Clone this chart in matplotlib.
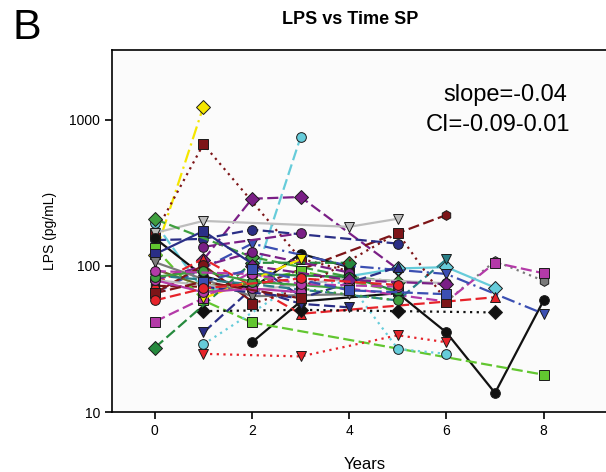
import matplotlib.pyplot as plt

plt.rcParams['font.family'] = ['Liberation Sans', 'DejaVu Sans']

# one list per subject: visit years and LPS (pg/mL)
years = [
    [0, 1], [0, 1, 3, 4], [0, 1, 2, 3], [1, 2, 3, 5], [0, 1, 4, 5],
    [0, 2, 6], [0, 1, 2, 5], [0, 1, 2, 3, 4], [2, 3, 5, 6, 7, 8], [0, 1, 2, 8],
    [1, 3, 5, 6], [1, 3, 4, 5, 6], [6, 7, 8], [4, 6, 7, 8], [4, 5, 6, 7],
    [0, 2, 4, 6, 8], [0, 1, 3, 6, 7], [1, 3, 5, 7], [0, 2, 4], [0, 2, 4, 5],
    [0, 1, 2, 3], [1, 2, 3, 4], [1, 3, 5], [1, 3], [0, 2, 4],
    [0, 1, 2], [0, 1, 2], [0, 1, 3], [0, 2, 4, 6], [0, 2, 5, 6],
    [2, 4, 5], [0, 2, 4], [1, 3, 5], [2, 4, 6], [3, 5],
    [2, 3, 5, 6], [1, 2, 3], [0, 1, 2, 3], [0, 1, 3], [0, 1, 2, 4],
    [0, 2, 3, 5], [1, 2, 4, 6], [0, 1, 3, 5],
]
lps = [
    [118, 1230], [166, 680, 112, 92], [198, 68, 73, 760], [110, 288, 296, 95], [168, 203, 185, 210],
    [73, 71, 223], [150, 153, 177, 142], [155, 85, 70, 121, 98], [30, 57, 65, 35, 13.5, 58], [133, 58, 41, 18],
    [25, 24, 33.5, 30], [29, 79, 76, 27, 25], [57, 108, 79], [70, 57, 105, 89], [85, 96, 98, 71],
    [65, 142, 100, 88, 47], [75, 112, 47, 57, 61], [49, 50, 49, 48], [27.5, 105, 105], [209, 115, 84, 78],
    [41.5, 60, 91, 64], [35, 70, 55, 52], [66, 92, 67], [135, 167], [80, 124, 90],
    [95, 73, 75], [65, 101, 57], [120, 173, 62], [80, 68, 82, 76], [86, 75, 58, 111],
    [88, 84, 67], [106, 62, 64], [72, 60, 98], [100, 80, 75], [70, 58],
    [55, 70, 168, 57], [60, 80, 111], [80, 66, 70, 66], [65, 78, 60], [84, 92, 78, 70],
    [92, 88, 75, 72], [78, 95, 68, 64], [58, 70, 82, 74],
]

# styles
C = {
    'yellow': '#f5e600', 'darkred': '#7d1518', 'cyan': '#66ccda', 'purple': '#7a1f86',
    'lgrey': '#bdbdbd', 'navy': '#2a2e86', 'black': '#111111', 'lime': '#62c630',
    'red': '#e6232a', 'dkgreen': '#268a3e', 'green': '#3f9f3f', 'magenta': '#b43aa8',
    'blue': '#3b4fb2', 'teal': '#2a7f88', 'olive': '#6b6b22', 'grey': '#7a7a7a',
}
DASH = (0, (5, 2))
DOT = (0, (1, 2))
DASHDOT = (0, (6, 2, 1, 2))
styles = [
    ('yellow', DASHDOT, 'D'), ('darkred', DOT, 's'), ('cyan', DASH, 'o'), ('purple', DASH, 'D'), ('lgrey', '-', 'v'),
    ('darkred', DASH, 'h'), ('navy', DASH, 'o'), ('black', '-', 'o'), ('black', '-', 'o'), ('lime', DASH, 's'),
    ('red', DOT, 'v'), ('cyan', DOT, 'o'), ('grey', DOT, 'h'), ('magenta', DASH, 's'), ('cyan', '-', 'D'),
    ('blue', DASHDOT, 'v'), ('red', DASH, '^'), ('black', DOT, 'D'), ('dkgreen', DASH, 'D'), ('green', DASH, 'D'),
    ('magenta', DASH, 's'), ('navy', DASH, 'v'), ('lime', DASH, 's'), ('purple', DASH, 'o'), ('purple', DASH, 'o'),
    ('olive', '-', '^'), ('darkred', '-', 'o'), ('navy', '-', 's'), ('lgrey', '-', 'o'), ('teal', DASH, 'v'),
    ('dkgreen', '-', 'o'), ('grey', '-', 'v'), ('navy', DASH, '^'), ('purple', DASH, 'D'), ('green', DOT, 'o'),
    ('darkred', DOT, 's'), ('yellow', DASH, 'v'), ('magenta', '-', 'o'), ('darkred', DASH, 's'), ('green', '-', 'o'),
    ('magenta', DASH, 'o'), ('blue', DASH, 's'), ('red', DASH, 'o'),
]

fig = plt.figure(figsize=(6.06, 4.72), dpi=100)
ax = fig.add_axes([112 / 606, 60 / 472, 506 / 606, 362 / 472])
ax.set_facecolor('#fbfbfb')

for x, y, (c, ls, m) in zip(years, lps, styles):
    ax.plot(x, y, color=C[c], linestyle=ls, linewidth=1.6, marker=m,
            markersize=7, markerfacecolor=C[c], markeredgecolor='#1a1a1a',
            markeredgewidth=0.7)

ax.set_yscale('log')
ax.set_ylim(10, 3000)
ax.set_xlim(-0.88, 9.53)
ax.set_yticks([10, 100, 1000])
ax.set_yticklabels(['10', '100', '1000'])
ax.minorticks_off()
ax.set_xticks([0, 2, 4, 6, 8])
ax.tick_params(direction='out', length=5, width=1.2, labelsize=10)
for s in ['left', 'bottom', 'top']:
    ax.spines[s].set_linewidth(1.2)
ax.spines['right'].set_visible(False)

ax.set_xlabel('Years', fontsize=12, labelpad=14)
ax.set_ylabel('LPS (pg/mL)', fontsize=10, labelpad=9)

fig.text(350 / 606, 1 - 20 / 472, 'LPS vs Time SP', ha='center', va='center',
         fontsize=13, fontweight='bold')
fig.text(13 / 606, 1 - 28 / 472, 'B', ha='left', va='center', fontsize=31)
fig.text(505 / 606, 1 - 95 / 472, 'slope=-0.04', ha='center', va='center', fontsize=17)
fig.text(498 / 606, 1 - 125 / 472, 'CI=-0.09-0.01', ha='center', va='center', fontsize=17)

fig.savefig('out.png', dpi=100)
